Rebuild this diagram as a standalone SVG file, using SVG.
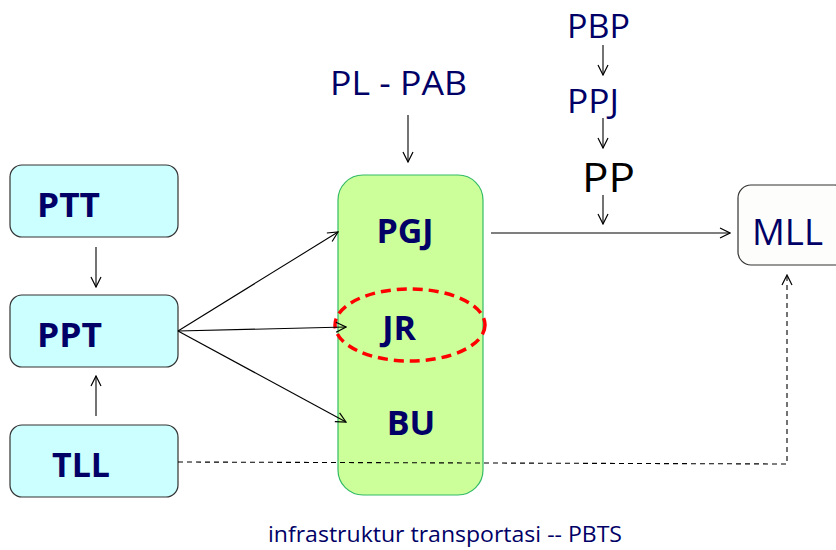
<svg xmlns="http://www.w3.org/2000/svg" width="836" height="550" viewBox="0 0 836 550">
<style>
.box{fill:#ccffff;stroke:#333;stroke-width:1.2}
.lbl{font-family:"Open Sans","Noto Sans",sans-serif;font-weight:bold;fill:#000066;font-size:34px}
.reg{font-family:"Open Sans","Noto Sans",sans-serif;fill:#000066}
.ln{stroke:#000;stroke-width:1.1;fill:none}
.dash{stroke:#000;stroke-width:1.1;fill:none;stroke-dasharray:5,4}
</style>
<defs>
<marker id="ah" viewBox="0 0 12 12" refX="11" refY="6" markerWidth="12" markerHeight="12" markerUnits="userSpaceOnUse" orient="auto">
<path d="M1,1 L11,6 L1,11" fill="none" stroke="#000" stroke-width="1.2"/>
</marker>
</defs>
<rect width="836" height="550" fill="#fff"/>
<g id="PTT"><rect class="box" x="10" y="165" width="168" height="72" rx="12"/><text class="lbl" x="37" y="217" textLength="63" lengthAdjust="spacingAndGlyphs">PTT</text></g>
<g id="PPT"><rect class="box" x="10" y="295" width="168" height="72" rx="12"/><text class="lbl" x="37" y="347" textLength="65" lengthAdjust="spacingAndGlyphs">PPT</text></g>
<g id="TLL"><rect class="box" x="10" y="425" width="168" height="72" rx="12"/><text class="lbl" x="52" y="477" textLength="58" lengthAdjust="spacingAndGlyphs">TLL</text></g>
<g id="center"><rect x="338" y="175" width="145" height="320" rx="25" fill="#ccff99" stroke="#33bb66" stroke-width="1.2"/>
<text class="lbl" x="405" y="243" text-anchor="middle">PGJ</text>
<text class="lbl" x="399" y="340" text-anchor="middle">JR</text>
<text class="lbl" x="411" y="435" text-anchor="middle">BU</text>
<ellipse cx="410" cy="325" rx="75" ry="36" fill="none" stroke="#ff0000" stroke-width="3.5" stroke-dasharray="10,6"/>
</g>
<g id="PLPAB"><text class="reg" x="330" y="95" font-size="33" textLength="137" lengthAdjust="spacingAndGlyphs">PL - PAB</text></g>
<g id="PBP"><text class="reg" x="567" y="38" font-size="33" textLength="63" lengthAdjust="spacingAndGlyphs">PBP</text></g>
<g id="PPJ"><text class="reg" x="567" y="113" font-size="33" textLength="52" lengthAdjust="spacingAndGlyphs">PPJ</text></g>
<g id="PP"><text x="582" y="192" font-size="41" textLength="53" lengthAdjust="spacingAndGlyphs" font-family="'Open Sans','Noto Sans',sans-serif" fill="#000">PP</text></g>
<g id="MLL"><rect x="738" y="185" width="110" height="80" rx="13" fill="#fdfdfb" stroke="#333" stroke-width="1.2"/><text class="reg" x="752" y="245" font-size="36" textLength="71" lengthAdjust="spacingAndGlyphs">MLL</text></g>
<g id="caption"><text class="reg" x="268" y="542" font-size="22" textLength="354" lengthAdjust="spacingAndGlyphs">infrastruktur transportasi -- PBTS</text></g>
<g id="connectors">
<line class="ln" x1="96" y1="247" x2="96" y2="287" marker-end="url(#ah)"/>
<line class="ln" x1="96" y1="416" x2="96" y2="376" marker-end="url(#ah)"/>
<line class="ln" x1="178" y1="331" x2="338" y2="232" marker-end="url(#ah)"/>
<line class="ln" x1="178" y1="331" x2="346" y2="327" marker-end="url(#ah)"/>
<line class="ln" x1="178" y1="331" x2="346" y2="422" marker-end="url(#ah)"/>
<line class="ln" x1="408" y1="115" x2="408" y2="162" marker-end="url(#ah)"/>
<line class="ln" x1="603" y1="45" x2="603" y2="75" marker-end="url(#ah)"/>
<line class="ln" x1="603" y1="118" x2="603" y2="148" marker-end="url(#ah)"/>
<line class="ln" x1="603" y1="195" x2="603" y2="224" marker-end="url(#ah)"/>
<line class="ln" x1="491" y1="233" x2="730" y2="233" marker-end="url(#ah)"/>
<polyline class="dash" points="178,462 787,464 787,275" marker-end="url(#ah)"/>
</g>
</svg>
